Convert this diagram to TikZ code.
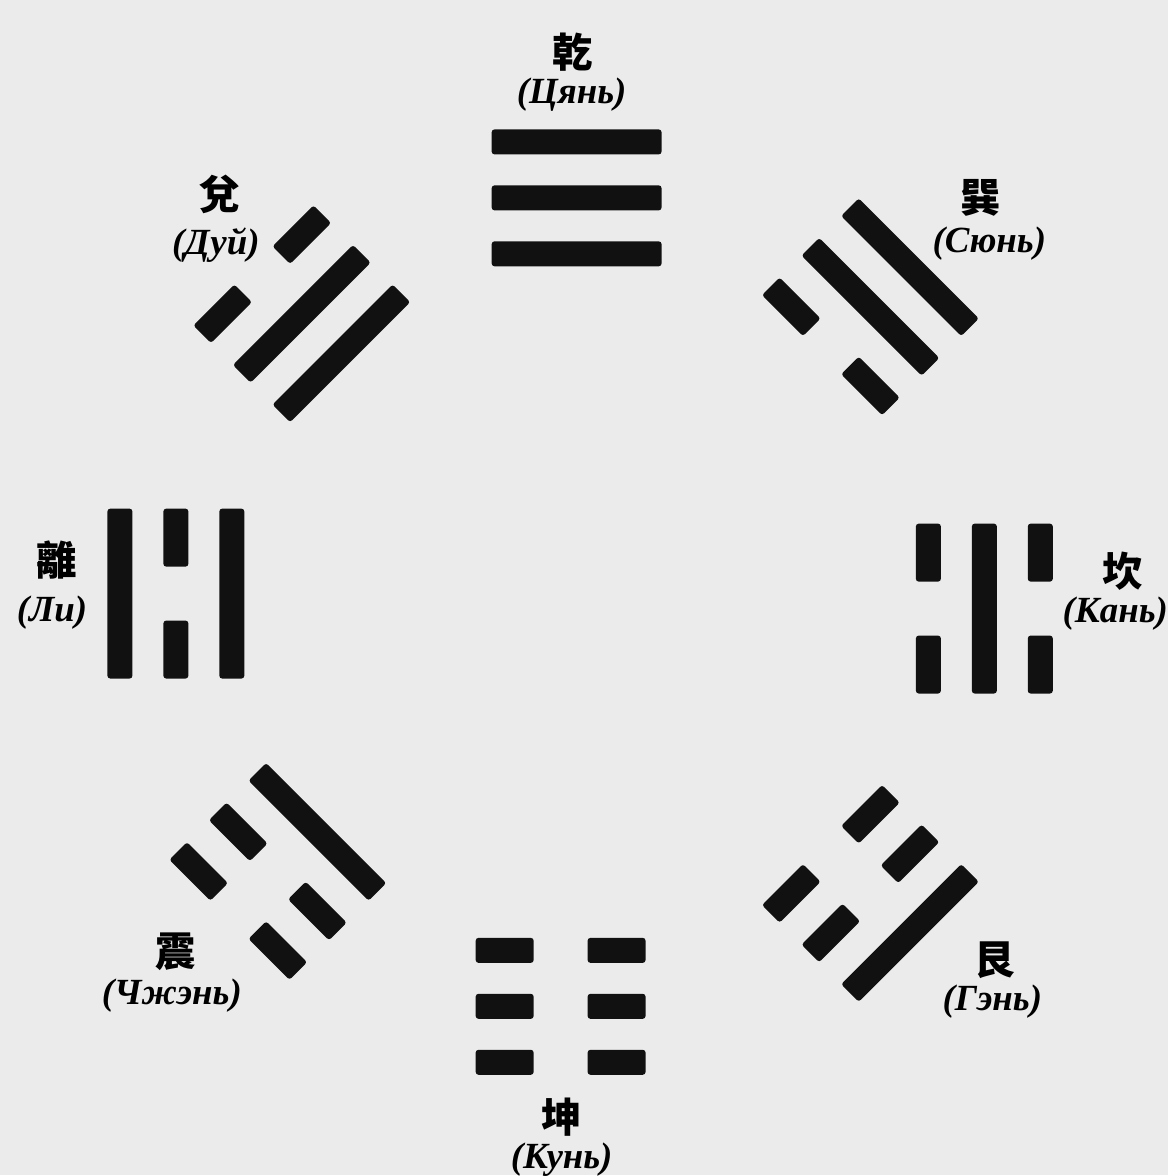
\documentclass[tikz,border=0pt]{standalone}
\usepackage{fontspec}
\setmainfont{Liberation Serif}
\newfontfamily\cjk{Noto Sans CJK TC}
\usepackage{tikz}
\usepackage{xcolor}
\definecolor{paper}{HTML}{EBEBEB}
\definecolor{ink}{HTML}{111111}

% one line of a trigram: #1 = local y, #2 = 1 solid / 0 broken
\newcommand{\yao}[2]{%
  \ifnum#2=1
    \fill[bar] (-0.85,#1-0.125) rectangle (0.85,#1+0.125);
  \else
    \fill[bar] (-0.85,#1-0.125) rectangle (-0.27,#1+0.125);
    \fill[bar] (0.27,#1-0.125) rectangle (0.85,#1+0.125);
  \fi}
% trigram: centre, rotation, top (outer), middle, bottom (inner)
\newcommand{\gua}[5]{%
  \begin{scope}[shift={#1}, rotate=#2]
    \yao{0.56}{#3}\yao{0}{#4}\yao{-0.56}{#5}
  \end{scope}}

\begin{document}
\begin{tikzpicture}[
  bar/.style={fill=ink, rounded corners=0.8pt},
  hanzi/.style={font=\cjk\bfseries\fontsize{11.5}{12}\selectfont, inner sep=0pt},
  pinyin/.style={font=\bfseries\itshape\fontsize{10.5}{12}\selectfont, inner sep=0pt}
]
\fill[paper] (0,0) rectangle (11.69,11.76);

\gua{(5.77,9.78)}{0}{1}{1}{1}
\gua{(3.02,8.62)}{45}{0}{1}{1}
\gua{(1.76,5.82)}{90}{1}{0}{1}
\gua{(2.78,3.04)}{135}{0}{0}{1}
\gua{(5.61,1.69)}{180}{0}{0}{0}
\gua{(8.71,2.82)}{225}{1}{0}{0}
\gua{(9.85,5.67)}{270}{0}{1}{0}
\gua{(8.71,8.69)}{315}{1}{1}{0}

\node[hanzi]  (qian)   at (5.73,11.24) {乾};
\node[pinyin] (qianR)  at (5.72,10.81) {(Цянь)};
\node[hanzi]  (dui)    at (2.20,9.81)  {兌};
\node[pinyin] (duiR)   at (2.16,9.31)  {(Дуй)};
\node[hanzi]  (xun)    at (9.81,9.78)  {巽};
\node[pinyin] (xunR)   at (9.90,9.32)  {(Сюнь)};
\node[hanzi]  (li)     at (0.57,6.16)  {離};
\node[pinyin] (liR)    at (0.52,5.63)  {(Ли)};
\node[hanzi]  (kan)    at (11.23,6.04) {坎};
\node[pinyin] (kanR)   at (11.16,5.62) {(Кань)};
\node[hanzi]  (zhen)   at (1.76,2.24)  {震};
\node[pinyin] (zhenR)  at (1.72,1.80)  {(Чжэнь)};
\node[hanzi]  (gen)    at (9.95,2.15)  {艮};
\node[pinyin] (genR)   at (9.93,1.74)  {(Гэнь)};
\node[hanzi]  (kun)    at (5.62,0.58)  {坤};
\node[pinyin] (kunR)   at (5.62,0.16)  {(Кунь)};
\end{tikzpicture}
\end{document}
